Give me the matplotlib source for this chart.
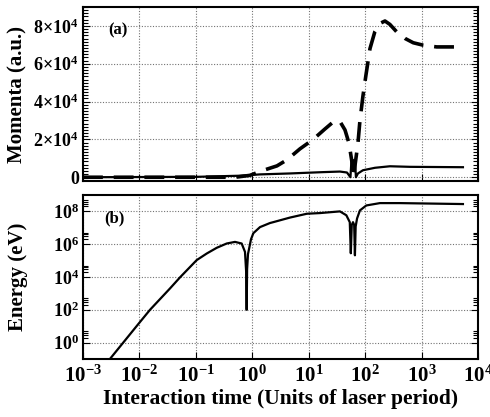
import math
import matplotlib
matplotlib.use("Agg")
import matplotlib.pyplot as plt
from matplotlib.ticker import FixedLocator, FuncFormatter, LogLocator, NullFormatter, AutoMinorLocator

plt.rcParams["font.family"] = ["Liberation Serif", "DejaVu Serif"]
plt.rcParams["font.weight"] = "bold"
plt.rcParams["mathtext.fontset"] = "custom"
plt.rcParams["mathtext.rm"] = "Liberation Serif:bold"
plt.rcParams["mathtext.it"] = "Liberation Serif:italic:bold"
plt.rcParams["mathtext.bf"] = "Liberation Serif:bold"

# (a) momenta, values in a.u.
t_long = [1e-3, 0.1, 0.5, 0.91, 1.55, 2.74, 4.12, 7.0, 11.9, 19.4, 29.2, 35.8, 44,
          51.8, 58.5, 62.2, 67.4, 74.7, 81, 91.6, 103.5, 122, 149, 183, 225, 275,
          362, 508, 713, 1073, 1855, 5420]
p_long = [0, 0, 0, 1000, 3600, 6000, 9200, 15000, 19900, 25500, 30000, 29500, 25000,
          18000, 8000, 0, 8000, 18000, 30000, 43000, 54000, 68000, 77000, 81300,
          82600, 80800, 76900, 73400, 71100, 69800, 68900, 68900]

t_trans = [1e-3, 0.1, 0.6, 1.37, 4.66, 17.9, 35.8, 47.7, 55, 57.3, 66, 68.8, 74.7,
           91.6, 150, 275, 624, 5420]
p_trans = [0, 200, 800, 1500, 2000, 2700, 3000, 2500, 0, 9000, 9000, 0, 2000,
           3700, 5000, 5800, 5500, 5300]

# (b) energy in eV
t_en = [0.002, 0.00955, 0.0154, 0.0348, 0.0524, 0.1035, 0.156, 0.234, 0.352, 0.494,
        0.649, 0.743, 0.78, 0.796, 0.81, 0.84, 0.885, 0.95, 1.046, 1.37, 2.06, 2.35,
        4.66, 9.3, 15.9, 35.8, 46.5, 53.5, 55.8, 58, 61, 64, 66, 68, 72, 81, 105,
        183, 412, 5420]
energy = [1.8e-2, 13.5, 100, 2.0e3, 9.5e3, 1.07e5, 2.7e5, 6.0e5, 1.1e6, 1.38e6,
          1.1e6, 3.4e5, 2e4, 100, 3e4, 2.5e5, 6e5, 2e6, 4.7e6, 1.1e7, 1.95e7, 2.2e7,
          4.2e7, 7.2e7, 7.9e7, 1.0e8, 5.8e7, 2.2e7, 2.8e5, 1.5e7, 2.2e7, 1.5e7,
          2.1e5, 1.2e7, 3.7e7, 1.15e8, 2.3e8, 3.2e8, 3.2e8, 2.8e8]

xlabel = "Interaction time (Units of laser period)"


def pow10(v, pos):
    return r"$10^{%d}$" % round(math.log10(v))


fig = plt.figure(figsize=(4.9, 4.17), dpi=100)
ax1 = fig.add_axes([0.1694, 0.5659, 0.806, 0.4173])
ax2 = fig.add_axes([0.1694, 0.1391, 0.806, 0.3933])

grid_kw = dict(color="0.45", linestyle=(0, (1, 1.5)), linewidth=0.8)

# top panel
ax1.plot(t_long, p_long, color="black", lw=2.6, ls=(0, (5.5, 3)), zorder=3)
ax1.plot(t_trans, p_trans, color="black", lw=1.6, zorder=3)
ax1.set_xscale("log")
ax1.set_xlim(1e-3, 1e4)
ax1.set_ylim(-2000, 90000)
ax1.yaxis.set_major_locator(FixedLocator([0, 20000, 40000, 60000, 80000]))
ax1.yaxis.set_minor_locator(AutoMinorLocator(12))
ax1.yaxis.set_major_formatter(FuncFormatter(
    lambda v, p: "0" if v == 0 else r"$%d\mathrm{\times}10^{4}$" % round(v / 1e4)))
ax1.xaxis.set_major_locator(LogLocator(base=10, numticks=20))
ax1.xaxis.set_minor_locator(FixedLocator([]))
ax1.xaxis.set_major_formatter(NullFormatter())
ax1.grid(True, which="major", **grid_kw)
ax1.set_ylabel("Momenta (a.u.)", fontsize=15, fontweight="bold")
ax1.yaxis.set_label_coords(-0.14, 0.5)
ax1.text(0.063, 0.868, "(a)", transform=ax1.transAxes, fontsize=12,
         fontweight="bold", va="center", ha="left")
ax1.tick_params(axis="y", labelsize=13, pad=3)

# bottom panel
ax2.plot(t_en, energy, color="black", lw=1.6, zorder=3)
ax2.set_xscale("log")
ax2.set_yscale("log")
ax2.set_xlim(1e-3, 1e4)
ax2.set_ylim(1e-1, 1e9)
ax2.yaxis.set_major_locator(FixedLocator([1e0, 1e2, 1e4, 1e6, 1e8]))
ax2.yaxis.set_minor_locator(FixedLocator(
    [s * 10.0 ** e for e in (0, 2, 4, 6, 8) for s in (2, 3, 4, 5)]))
ax2.yaxis.set_minor_formatter(NullFormatter())
ax2.yaxis.set_major_formatter(FuncFormatter(pow10))
ax2.xaxis.set_major_locator(FixedLocator([10.0 ** e for e in range(-3, 5)]))
ax2.xaxis.set_minor_locator(FixedLocator([]))
ax2.xaxis.set_major_formatter(FuncFormatter(pow10))
ax2.grid(True, which="major", **grid_kw)
ax2.set_ylabel("Energy (eV)", fontsize=15, fontweight="bold")
ax2.yaxis.set_label_coords(-0.14, 0.5)
ax2.set_xlabel(xlabel, fontsize=15.5, fontweight="bold", labelpad=1)
ax2.text(0.053, 0.86, "(b)", transform=ax2.transAxes, fontsize=12,
         fontweight="bold", va="center", ha="left")
ax2.tick_params(axis="y", labelsize=13, pad=3)
ax2.tick_params(axis="x", labelsize=15, pad=5)

for ax in (ax1, ax2):
    for s in ax.spines.values():
        s.set_linewidth(1.5)
    ax.tick_params(which="both", direction="in", right=True, top=False, width=0.8)
    ax.tick_params(which="major", length=5)
    ax.tick_params(which="minor", length=3.5)

fig.savefig("out.png", dpi=100)
